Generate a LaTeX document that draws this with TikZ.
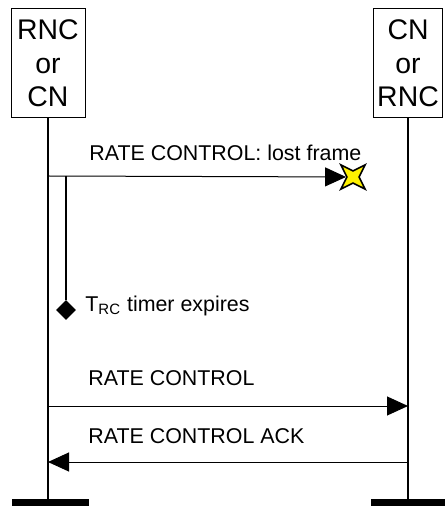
\documentclass[tikz,border=0pt]{standalone}
\usepackage{fontspec}
\setmainfont{Liberation Sans}
\usetikzlibrary{arrows.meta,shapes.geometric,positioning}
\tikzset{
  entity/.style={draw,line width=0.5pt,align=center,inner sep=0pt,minimum height=54.5pt,
                 font=\fontsize{14.2}{16.75}\selectfont},
  endbar/.style={fill=black,inner sep=0pt,minimum height=3.5pt,minimum width=38.5pt},
  msg/.style={line width=0.5pt,-{Triangle[length=10.5pt,width=9.5pt]}},
  msglabel/.style={anchor=base west,inner sep=0pt,font=\fontsize{10.7}{12}\selectfont},
  lostframe/.style={star,star points=4,star point ratio=2.8,shape border rotate=45,draw,
                    fill=yellow,line width=0.8pt,minimum size=17pt,inner sep=0pt},
  expiry/.style={diamond,fill=black,inner sep=0pt,minimum size=10pt}
}

\begin{document}
\begin{tikzpicture}[x=0.5pt,y=-0.5pt]
    \useasboundingbox (0,0) rectangle (444,506);

    \node[entity,minimum width=37pt]   (RNC) at (48,63.5)  {RNC\\or\\CN};
    \node[entity,minimum width=34.5pt] (CN)  at (408,63.5) {CN\\or\\RNC};
    \node[endbar] (RNC end) at (50.5,502.5) {};
    \node[endbar] (CN end)  at (409.5,502.5) {};
    \draw[line width=0.6pt] (RNC.south) -- (RNC.south |- RNC end.north);
    \draw[line width=0.6pt] (CN.south) -- (CN.south |- CN end.north);

    % lost frame
    \coordinate (lf start) at (RNC.south |- 0,176);
    \node[lostframe] (lost) at (353,177) {};
    \draw[msg] (lf start) -- (lost);
    \node[msglabel] (lf text) at (89,160.7) {RATE CONTROL: lost frame};

    % timer
    \coordinate (tmr start) at (66,176);
    \node[expiry] (tmr) at (66,310) {};
    \draw[line width=1pt] (tmr start) -- (tmr);
    \node[msglabel] (tmr text) at (85,311.7) {T\textsubscript{RC} timer expires};

    % rate control and ack
    \coordinate (rc start) at (RNC.south |- 0,406);
    \coordinate (rc end)   at (CN.south |- 0,406);
    \draw[msg] (rc start) -- (rc end);
    \node[msglabel] (rc text) at (88,385.7) {RATE CONTROL};

    \coordinate (ack start) at (CN.south |- 0,462);
    \coordinate (ack end)   at (RNC.south |- 0,462);
    \draw[msg] (ack start) -- (ack end);
    \node[msglabel] (ack text) at (88,443) {RATE CONTROL ACK};
\end{tikzpicture}
\end{document}
